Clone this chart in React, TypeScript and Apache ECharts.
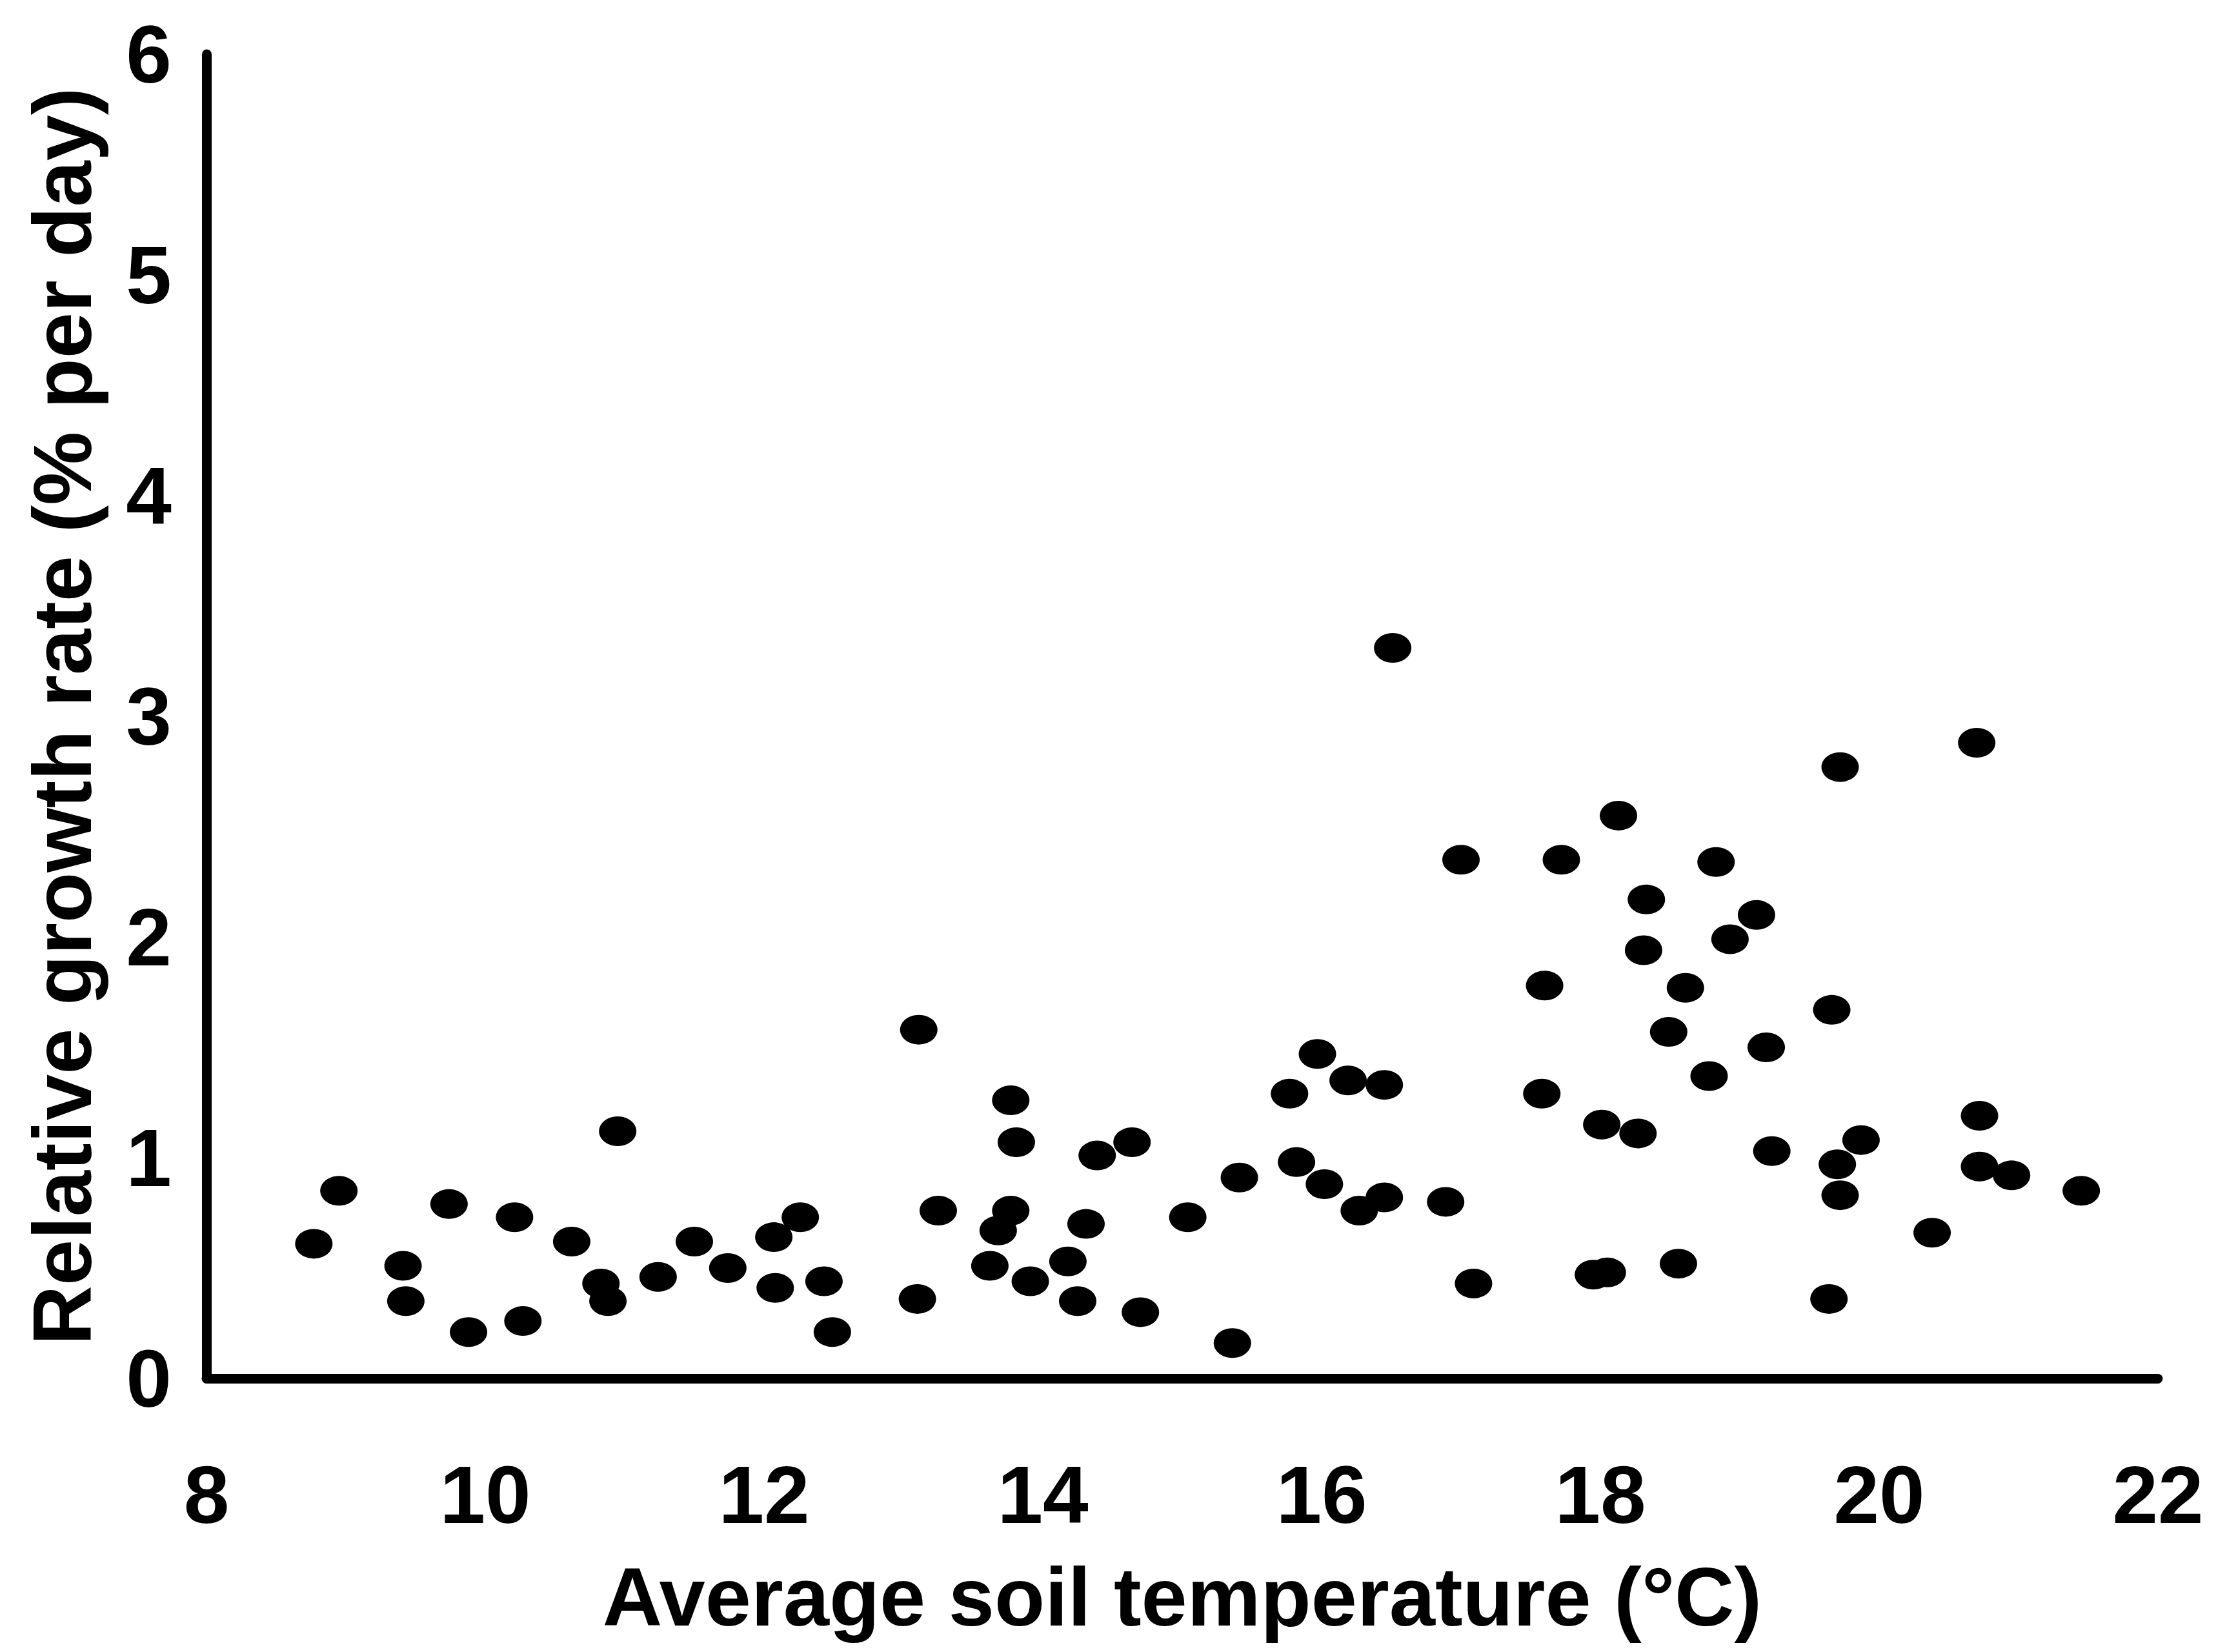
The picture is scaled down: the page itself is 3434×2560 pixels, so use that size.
import React, { useEffect, useRef } from "react";
import * as echarts from "echarts";

// Average soil temperature (°C)
const temperature: number[] = [
  8.77, 8.95, 9.41, 9.43, 9.74, 9.88, 10.21, 10.27, 10.62, 10.83,
  10.88, 10.95, 11.24, 11.5, 11.74, 12.07, 12.08, 12.26, 12.43, 12.49,
  13.11, 13.1, 13.25, 13.62, 13.68, 13.77, 13.77, 13.81, 13.91, 14.18,
  14.25, 14.31, 14.39, 14.64, 14.7, 15.04, 15.36, 15.41, 15.77, 15.82,
  15.97, 16.02, 16.19, 16.27, 16.45, 16.45, 16.51, 16.89, 17.0, 17.09,
  17.58, 17.6, 17.72, 17.95, 18.01, 18.05, 18.13, 18.27, 18.31, 18.33,
  18.49, 18.56, 18.61, 18.78, 18.83, 18.93, 19.12, 19.19, 19.23, 19.64,
  19.66, 19.7, 19.72, 19.72, 19.87, 20.38, 20.7, 20.72, 20.72, 20.95,
  21.45,
];

// Relative growth rate (% per day)
const growthRate: number[] = [
  0.61, 0.85, 0.51, 0.35, 0.79, 0.21, 0.73, 0.26, 0.62, 0.43,
  0.35, 1.12, 0.46, 0.62, 0.5, 0.64, 0.41, 0.73, 0.44, 0.21,
  1.58, 0.36, 0.76, 0.51, 0.67, 1.26, 0.76, 1.07, 0.44, 0.53,
  0.35, 0.7, 1.01, 1.07, 0.3, 0.73, 0.16, 0.91, 1.29, 0.98,
  1.47, 0.88, 1.35, 0.76, 1.33, 0.82, 3.31, 0.8, 2.35, 0.43,
  1.29, 1.78, 2.35, 0.47, 1.15, 0.48, 2.55, 1.11, 1.94, 2.17,
  1.57, 0.52, 1.77, 1.37, 2.34, 1.99, 2.1, 1.5, 1.03, 0.36,
  1.67, 0.97, 2.77, 0.83, 1.08, 0.66, 2.88, 1.19, 0.96, 0.92,
  0.85,
];

const xTicks = { min: 8, max: 22, interval: 2 };
const yTicks = { min: 0, max: 6, interval: 1 };

const xAxisTitle = "Average soil temperature (°C)";
const yAxisTitle = "Relative growth rate (% per day)";

const FONT = "'Liberation Sans', Arial, Helvetica, sans-serif";

export default function App() {
  const ref = useRef<HTMLDivElement>(null);

  useEffect(() => {
    if (!ref.current) return;
    const chart = echarts.init(ref.current, undefined, { renderer: "svg" });
    const points = temperature.map((t, i) => [t, growthRate[i]]);

    const labelStyle = {
      color: "#000",
      fontFamily: FONT,
      fontWeight: "bold" as const,
      fontSize: 127,
    };

    chart.setOption({
      animation: false,
      backgroundColor: "#fff",
      grid: { left: 320, right: 90, top: 84, bottom: 424, containLabel: false },
      xAxis: {
        type: "value",
        min: xTicks.min,
        max: xTicks.max,
        interval: xTicks.interval,
        name: xAxisTitle,
        nameLocation: "middle",
        nameGap: 274,
        nameTextStyle: { ...labelStyle, fontSize: 128 },
        axisLine: { show: true, onZero: false, lineStyle: { color: "#000", width: 15 } },
        axisTick: { show: false },
        splitLine: { show: false },
        axisLabel: { ...labelStyle, margin: 116 },
      },
      yAxis: {
        type: "value",
        min: yTicks.min,
        max: yTicks.max,
        interval: yTicks.interval,
        name: yAxisTitle,
        nameLocation: "middle",
        nameGap: 160,
        nameTextStyle: { ...labelStyle, fontSize: 128 },
        axisLine: { show: true, onZero: false, lineStyle: { color: "#000", width: 15 } },
        axisTick: { show: false },
        splitLine: { show: false },
        axisLabel: { ...labelStyle, margin: 54 },
      },
      series: [
        {
          type: "scatter",
          data: points,
          symbol: "circle",
          symbolSize: [58, 46],
          itemStyle: { color: "#000", opacity: 1 },
        },
      ],
    });

    return () => {
      chart.dispose();
    };
  }, []);

  return (
    <div
      ref={ref}
      style={{ position: "fixed", left: 0, top: 0, width: 3434, height: 2560, background: "#fff" }}
    />
  );
}
